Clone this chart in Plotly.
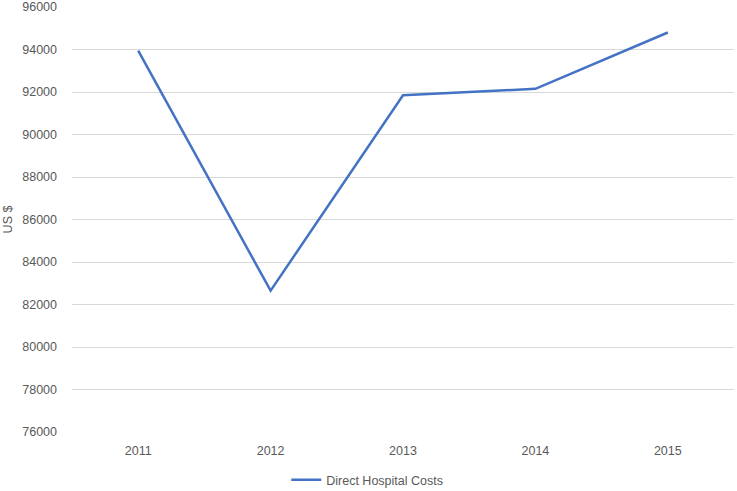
import plotly.graph_objects as go

# data
years = ["2011", "2012", "2013", "2014", "2015"]
direct_costs = [93950, 82650, 91850, 92150, 94800]
series_name = "Direct Hospital Costs"

TEXT = "#595959"
GRID = "#d9d9d9"
LINE = "#4472C4"

fig = go.Figure()
fig.add_trace(go.Scatter(
    x=years, y=direct_costs, mode="lines", name=series_name,
    line=dict(color=LINE, width=2.5),
))

fig.update_layout(
    width=737, height=491,
    paper_bgcolor="white", plot_bgcolor="white",
    font=dict(family="Liberation Sans, Arial, sans-serif", size=12.5, color=TEXT),
    margin=dict(l=72, r=3, t=7, b=59, autoexpand=False),
    showlegend=True,
    legend=dict(orientation="h", x=0.446, xanchor="center", y=-0.113, yanchor="middle",
                font=dict(size=12.5, color=TEXT), itemwidth=30),
    xaxis=dict(type="category", range=[-0.5, 4.5], showgrid=False, showline=False,
               zeroline=False, ticks="", ticklabelstandoff=9, automargin=False),
    yaxis=dict(range=[76000, 96000], dtick=2000, tickformat="d", showgrid=True,
               gridcolor=GRID, gridwidth=1, zeroline=False, showline=False,
               ticks="", ticklabelstandoff=14, automargin=False,
               title=dict(text="US $", standoff=6, font=dict(size=12.5, color=TEXT))),
)

# page body has a default 8px margin; drop it so the chart sits at the corner
fig.write_html("out.html", config={"displayModeBar": False},
               post_script="document.body.style.margin='0';")
